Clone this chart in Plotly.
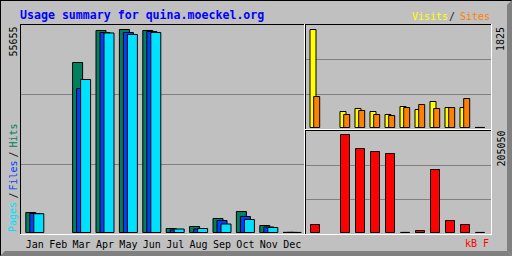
import plotly.graph_objects as go

W, H = 512, 256

months = ["Jan", "Feb", "Mar", "Apr", "May", "Jun", "Jul", "Aug", "Sep", "Oct", "Nov", "Dec"]
hits = [5484, None, 46610, 55390, 55655, 55390, 1097, 1645, 3840, 5760, 1920, 40]
files = [5210, None, 39480, 54830, 54840, 55110, 690, 960, 3290, 4390, 1510, 30]
pages = [5150, None, 41950, 54700, 54290, 54840, 960, 1097, 2330, 3565, 1370, 20]
visits = [1825, None, 298, 354, 298, 242, 391, 335, 484, 372, 372, 1]
sites = [577, None, 242, 317, 242, 223, 372, 428, 354, 372, 540, 1]
kbytes = [16740, None, 205050, 175760, 169480, 165300, 300, 4180, 131820, 25100, 16740, 200]

max_hits = 55655
max_visits = 1825
max_kb = 205050

C_HIT, C_FILE, C_PAGE = "#00805c", "#0040ff", "#00e0ff"
C_VISIT, C_SITE, C_KB = "#ffff00", "#ff8000", "#ff0000"
GREY, DGREY = "#c0c0c0", "#808080"
MONO = "DejaVu Sans Mono"


def X(p):
    return p / W


def Y(p):
    return 1 - p / H


def yrange(top, bottom, base, peak_px, peak_val):
    s = peak_px / peak_val
    return [-(bottom - base) / s, (base - top) / s]


xi = list(range(12))
fig = go.Figure()

# main panel
mw = 10 / 23.4
for name, vals, col, cen in [("Hits", hits, C_HIT, -4), ("Files", files, C_FILE, 0), ("Pages", pages, C_PAGE, 4)]:
    fig.add_trace(go.Bar(x=xi, y=vals, name=name, width=mw, offset=cen / 23.4 - mw / 2,
                         marker=dict(color=col, line=dict(color="black", width=1)),
                         xaxis="x", yaxis="y"))

# visits / sites
rw = 6 / 15
for name, vals, col, cen in [("Visits", visits, C_VISIT, -2), ("Sites", sites, C_SITE, 1.7)]:
    fig.add_trace(go.Bar(x=xi, y=vals, name=name, width=rw, offset=cen / 15 - rw / 2,
                         marker=dict(color=col, line=dict(color="black", width=1)),
                         xaxis="x2", yaxis="y2"))

kw = 9 / 15
fig.add_trace(go.Bar(x=xi, y=kbytes, name="kB F", width=kw, offset=-kw / 2,
                     marker=dict(color=C_KB, line=dict(color="black", width=1)),
                     xaxis="x3", yaxis="y3"))

r1 = yrange(25, 234, 232.5, 203, max_hits)
r2 = yrange(25, 129, 127.5, 98, max_visits)
r3 = yrange(131, 234, 232.5, 98, max_kb)


def grid(r):
    return [r[0] + (r[1] - r[0]) * k / 3 for k in (1, 2)]


def yax(top, bottom, r):
    return dict(domain=[Y(bottom), Y(top)], range=r, tickvals=grid(r), showticklabels=False,
                showgrid=True, gridcolor=DGREY, gridwidth=1, zeroline=False, showline=False,
                ticks="", fixedrange=True)


fig.update_layout(
    width=W, height=H, margin=dict(l=0, r=0, t=0, b=0),
    paper_bgcolor=GREY, plot_bgcolor=GREY, barmode="overlay", showlegend=False,
    xaxis=dict(domain=[X(21), X(304)], range=[(21 - 34.8) / 23.4, (304 - 34.8) / 23.4],
               tickvals=xi, ticktext=months, showgrid=False, zeroline=False, showline=False,
               ticks="", ticklabelstandoff=3,
               tickfont=dict(family=MONO, size=10, color="black"), anchor="y"),
    yaxis=yax(25, 234, r1),
    xaxis2=dict(domain=[X(306), X(491)], range=[(306 - 315) / 15, (491 - 315) / 15],
                showticklabels=False, showgrid=False, zeroline=False, ticks="", anchor="y2"),
    yaxis2=yax(25, 129, r2),
    xaxis3=dict(domain=[X(306), X(491)], range=[(306 - 315) / 15, (491 - 315) / 15],
                showticklabels=False, showgrid=False, zeroline=False, ticks="", anchor="y3"),
    yaxis3=yax(131, 234, r3),
)

shapes = []


def line(x0, y0, x1, y1, col, w=1):
    shapes.append(dict(type="line", xref="paper", yref="paper", x0=X(x0), y0=Y(y0), x1=X(x1), y1=Y(y1),
                       line=dict(color=col, width=w), layer="above"))


# outer frame
line(0, 0.5, 512, 0.5, "black")
line(0.5, 0, 0.5, 256, "black")
shapes.append(dict(type="path", xref="paper", yref="paper",
                   path=f"M {X(507)} {Y(5)} L {X(512)} {Y(0)} L {X(512)} {Y(256)} L {X(507)} {Y(251)} Z",
                   fillcolor=DGREY, line=dict(width=0), layer="above"))
shapes.append(dict(type="path", xref="paper", yref="paper",
                   path=f"M {X(5)} {Y(251)} L {X(507)} {Y(251)} L {X(512)} {Y(256)} L {X(0)} {Y(256)} Z",
                   fillcolor=DGREY, line=dict(width=0), layer="above"))

# panel borders (sunken)
for (l, t, r, b) in [(20, 24, 304, 234), (305, 24, 491, 129), (305, 130, 491, 234)]:
    line(l, t + 0.5, r + 1, t + 0.5, "black")
    line(l + 0.5, t, l + 0.5, b + 1, "black")
    line(l, b + 0.5, r + 1, b + 0.5, "white")
    line(r + 0.5, t, r + 0.5, b + 1, "white")

fig.update_layout(shapes=shapes)

ann = []


def text(s, x, y, col, size=10, bold=False, angle=0, xa="left", ya="middle"):
    ann.append(dict(text=f"<b>{s}</b>" if bold else s, x=X(x), y=Y(y), xref="paper", yref="paper",
                    showarrow=False, xanchor=xa, yanchor=ya, textangle=angle,
                    font=dict(family=MONO, size=size, color=col), borderpad=0))


text("Usage summary for quina.moeckel.org", 19, 14.5, "#0000ff", size=11.6, bold=True)
text("Visits", 411, 16, C_VISIT)
text("/", 452, 16, "#202020", xa="center")
text("Sites", 459, 16, C_SITE)
text("kB F", 490, 243, C_KB, xa="right")

text("55655", 12.5, 42, "black", angle=-90, xa="center")
text("1825", 500.5, 39.5, "black", angle=-90, xa="center")
text("205050", 500.5, 149, "black", angle=-90, xa="center")
text("Pages", 12.5, 217.5, C_PAGE, angle=-90, xa="center")
text("/", 12.5, 196, "#202020", angle=-90, xa="center")
text("Files", 12.5, 176, C_FILE, angle=-90, xa="center")
text("/", 12.5, 155, "#202020", angle=-90, xa="center")
text("Hits", 12.5, 136, C_HIT, angle=-90, xa="center")

fig.update_layout(annotations=ann)
fig.write_html("out.html")
